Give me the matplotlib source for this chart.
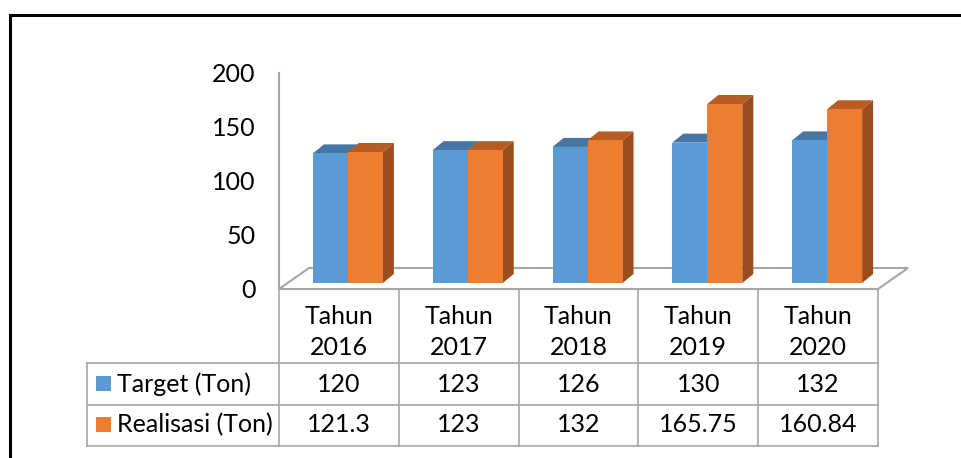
import matplotlib
matplotlib.use("Agg")
import matplotlib.pyplot as plt
from matplotlib.patches import Polygon, Rectangle
from matplotlib.lines import Line2D
from matplotlib.transforms import blended_transform_factory

# ---- data ----
categories = ["Tahun\n2016", "Tahun\n2017", "Tahun\n2018", "Tahun\n2019", "Tahun\n2020"]
target = [120, 123, 126, 130, 132]
realisasi = [121.3, 123, 132, 165.75, 160.84]
target_labels = ["120", "123", "126", "130", "132"]
realisasi_labels = ["121.3", "123", "132", "165.75", "160.84"]
series_names = ["Target (Ton)", "Realisasi (Ton)"]
y_ticks = [0, 50, 100, 150, 200]

# colours: front, top, side
BLUE = ("#5B9BD5", "#4675A6", "#3F6E9C")
ORANGE = ("#ED7D31", "#B75C22", "#9A4D1D")
GRID = "#A6A6A6"

W, H, DPI = 961, 458, 100


def fx(px):
    return px / W


def fy(py):
    return 1 - py / H


plt.rcParams["font.family"] = ["Lato", "DejaVu Sans"]
FS = 18

fig = plt.figure(figsize=(W / DPI, H / DPI), dpi=DPI)
ax = fig.add_axes([fx(279), fy(289), fx(878) - fx(279), (289 - 73) / H])
ax.set_xlim(-0.5, len(categories) - 0.5)
ax.set_ylim(0, 200)
ax.set_facecolor("none")

# pixel -> data unit conversion (axes are linear and fixed)
px_x = (ax.get_xlim()[1] - ax.get_xlim()[0]) / (878 - 279)
px_y = (ax.get_ylim()[1] - ax.get_ylim()[0]) / (289 - 73)

for s in ["top", "right", "bottom"]:
    ax.spines[s].set_visible(False)
ax.spines["left"].set_color(GRID)
ax.spines["left"].set_linewidth(1.5)
ax.set_xticks([])
ax.set_yticks(y_ticks)
ax.tick_params(axis="y", length=0, pad=17, labelsize=FS)

# 3D floor
fdx, fdy = 30 * px_x, 21 * px_y
x0, x1 = ax.get_xlim()
floor = Polygon([(x0, 0), (x1, 0), (x1 + fdx, fdy), (x0 + fdx, fdy)],
                closed=True, facecolor="white", edgecolor=GRID, linewidth=1.5,
                clip_on=False, zorder=1, joinstyle="miter")
ax.add_patch(floor)

# bars (front plane sits halfway into the floor)
shift_x, shift_y = 9 * px_x, 6 * px_y
dep_x, dep_y = 11 * px_x, 9 * px_y
bw = 35 * px_x


def bar3d(xl, h, cols, z):
    front, top, side = cols
    xr = xl + bw
    yb, yt = shift_y, shift_y + h
    ax.add_patch(Polygon([(xr, yb), (xr + dep_x, yb + dep_y), (xr + dep_x, yt + dep_y), (xr, yt)],
                         facecolor=side, edgecolor="none", clip_on=False, zorder=z))
    ax.add_patch(Polygon([(xl, yt), (xr, yt), (xr + dep_x, yt + dep_y), (xl + dep_x, yt + dep_y)],
                         facecolor=top, edgecolor="none", clip_on=False, zorder=z))
    ax.add_patch(Rectangle((xl, yb), bw, h, facecolor=front, edgecolor="none",
                           clip_on=False, zorder=z + 0.1))


for i in range(len(categories)):
    left = i + shift_x - bw
    bar3d(left, target[i], BLUE, 3 + i)
    bar3d(left + bw, realisasi[i], ORANGE, 3.5 + i)

# ---- data table ----
tr = blended_transform_factory(ax.transData, fig.transFigure)
edges = [x0 + k for k in range(len(categories) + 1)]
row_y = [290, 363, 405, 446]

for e in edges:
    fig.add_artist(Line2D([e, e], [fy(290), fy(446)], transform=tr, color=GRID, lw=1.2))
for yy in row_y[1:]:
    fig.add_artist(Line2D([fx(87), fx(878)], [fy(yy), fy(yy)], color=GRID, lw=1.2))
fig.add_artist(Line2D([fx(87), fx(87)], [fy(363), fy(446)], color=GRID, lw=1.2))

for i, cat in enumerate(categories):
    fig.text(i, fy(332), cat, transform=tr, ha="center", va="center",
             fontsize=FS, linespacing=1.4)
    fig.text(i, fy(384), target_labels[i], transform=tr, ha="center", va="center", fontsize=FS)
    fig.text(i, fy(425), realisasi_labels[i], transform=tr, ha="center", va="center", fontsize=FS)

for name, col, yc in [(series_names[0], BLUE[0], 384), (series_names[1], ORANGE[0], 425)]:
    fig.add_artist(Rectangle((fx(96), fy(yc + 7)), 15 / W, 15 / H, facecolor=col,
                             edgecolor="none", transform=fig.transFigure))
    fig.text(fx(117), fy(yc), name, ha="left", va="center", fontsize=FS)

# outer frame (cut off on the right and bottom)
fig.add_artist(Line2D([fx(10), fx(10), 1.0], [0, fy(14.5), fy(14.5)],
                      color="black", lw=2.2, solid_joinstyle="miter"))

fig.savefig("out.png", dpi=DPI)
